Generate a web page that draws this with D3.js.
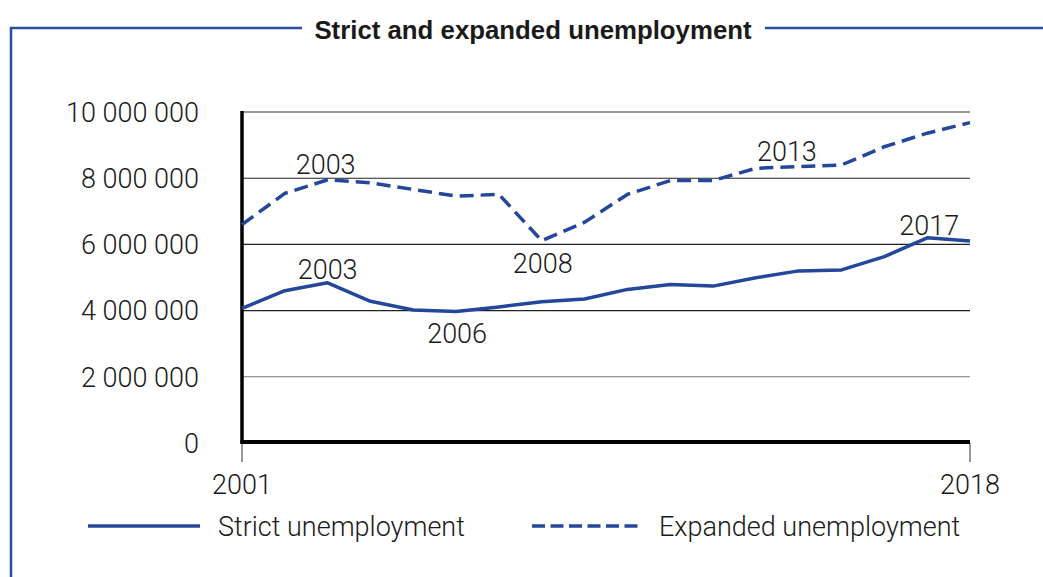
<!DOCTYPE html>
<html>
<head>
<meta charset="utf-8">
<script src="https://cdn.jsdelivr.net/npm/d3@7"></script>
<style>
html,body{margin:0;padding:0;background:#fff;}
svg{display:block;}
</style>
</head>
<body>
<svg id="chart" width="1043" height="577"></svg>
<script>
const years = d3.range(2001, 2019);
const strictValues = [4070000, 4600000, 4840000, 4280000, 4020000, 3970000, 4110000, 4270000, 4350000, 4640000, 4790000, 4740000, 4990000, 5200000, 5230000, 5630000, 6200000, 6100000];
const expandedValues = [6600000, 7540000, 7950000, 7860000, 7660000, 7460000, 7510000, 6110000, 6670000, 7510000, 7930000, 7930000, 8300000, 8350000, 8400000, 8950000, 9360000, 9680000];
const yTicks = [0, 2000000, 4000000, 6000000, 8000000, 10000000];
const xTickLabels = [2001, 2018];
const seriesNames = ["Strict unemployment", "Expanded unemployment"];
const title = "Strict and expanded unemployment";
const annotations = [
  {series: "expanded", year: 2003, label: "2003"},
  {series: "expanded", year: 2008, label: "2008"},
  {series: "expanded", year: 2013, label: "2013"},
  {series: "strict", year: 2003, label: "2003"},
  {series: "strict", year: 2006, label: "2006"},
  {series: "strict", year: 2017, label: "2017"}
];

const blue = "#24479c";
const frameBlue = "#2a4f9e";
const font = "Roboto, 'Liberation Sans', Arial, sans-serif";
const fs = 27;
const svg = d3.select("#chart");

const x = d3.scaleLinear().domain([2001, 2018]).range([242, 970]);
const y = d3.scaleLinear().domain([0, 10000000]).range([443, 112]);

// frame
svg.append("path")
  .attr("d", "M11,577 L11,28 L302,28 M765,28 L1043,28")
  .attr("fill", "none").attr("stroke", frameBlue).attr("stroke-width", 2.5);
svg.append("text")
  .attr("x", 533).attr("y", 39).attr("text-anchor", "middle")
  .attr("font-family", "'Liberation Sans', Arial, sans-serif").attr("font-weight", "bold")
  .attr("font-size", 25.8).attr("fill", "#1a1a1a").text(title);

// gridlines
svg.append("g").selectAll("line").data(yTicks.filter(d => d > 0)).join("line")
  .attr("x1", x(2001)).attr("x2", x(2018))
  .attr("y1", d => y(d)).attr("y2", d => y(d))
  .attr("stroke", d => d === 10000000 || d === 2000000 ? "#777" : "#222")
  .attr("stroke-width", d => d === 10000000 ? 1.5 : 1.1);

// y labels
svg.append("g").selectAll("text").data(yTicks).join("text")
  .attr("x", 199).attr("y", d => y(d)).attr("dy", "0.36em")
  .attr("text-anchor", "end")
  .attr("font-family", font).attr("font-weight", 300).attr("font-size", fs)
  .attr("fill", "#1a1a1a")
  .text(d => d3.format(",")(d).replace(/,/g, " "));

// x ticks
svg.append("g").selectAll("line").data(xTickLabels).join("line")
  .attr("x1", d => x(d)).attr("x2", d => x(d))
  .attr("y1", 443).attr("y2", 462)
  .attr("stroke", "#333").attr("stroke-width", 1);
svg.append("g").selectAll("text").data(xTickLabels).join("text")
  .attr("x", d => x(d)).attr("y", 494).attr("text-anchor", "middle")
  .attr("font-family", font).attr("font-weight", 300).attr("font-size", fs)
  .attr("fill", "#1a1a1a").text(d => d);

// axes
svg.append("line").attr("x1", x(2001)).attr("x2", x(2001)).attr("y1", 111).attr("y2", 444)
  .attr("stroke", "#000").attr("stroke-width", 3.5);
svg.append("line").attr("x1", x(2001) - 1.5).attr("x2", x(2018)).attr("y1", y(0) - 1).attr("y2", y(0) - 1)
  .attr("stroke", "#000").attr("stroke-width", 4);

// lines
const line = d3.line().x((d, i) => x(years[i])).y(d => y(d));
svg.append("path").datum(strictValues).attr("d", line)
  .attr("fill", "none").attr("stroke", blue).attr("stroke-width", 3.5)
  .attr("stroke-linejoin", "round");
svg.append("path").datum(expandedValues).attr("d", line)
  .attr("fill", "none").attr("stroke", blue).attr("stroke-width", 3.5)
  .attr("stroke-dasharray", "14,7");

// annotations
const annOffsets = {
  "expanded-2003": [-2, -6], "expanded-2008": [1, 32], "expanded-2013": [31, -7],
  "strict-2003": [0, -4], "strict-2006": [1, 31], "strict-2017": [2, -3]
};
svg.append("g").selectAll("text").data(annotations).join("text")
  .attr("x", d => x(d.year) + annOffsets[d.series + "-" + d.year][0])
  .attr("y", d => y((d.series === "strict" ? strictValues : expandedValues)[d.year - 2001]) + annOffsets[d.series + "-" + d.year][1])
  .attr("text-anchor", "middle")
  .attr("font-family", font).attr("font-weight", 300).attr("font-size", fs)
  .attr("fill", "#1a1a1a").text(d => d.label);

// legend
const legend = svg.append("g");
const legItems = [
  {name: seriesNames[0], x1: 88, x2: 200, tx: 218, dash: null},
  {name: seriesNames[1], x1: 532, x2: 642, tx: 659, dash: "13,5.5"}
];
legItems.forEach(it => {
  legend.append("line").attr("x1", it.x1).attr("x2", it.x2).attr("y1", 526).attr("y2", 526)
    .attr("stroke", blue).attr("stroke-width", 3.5)
    .attr("stroke-dasharray", it.dash);
  legend.append("text").attr("x", it.tx).attr("y", 536)
    .attr("font-family", font).attr("font-weight", 300).attr("font-size", fs)
    .attr("fill", "#1a1a1a").text(it.name);
});
</script>
</body>
</html>
